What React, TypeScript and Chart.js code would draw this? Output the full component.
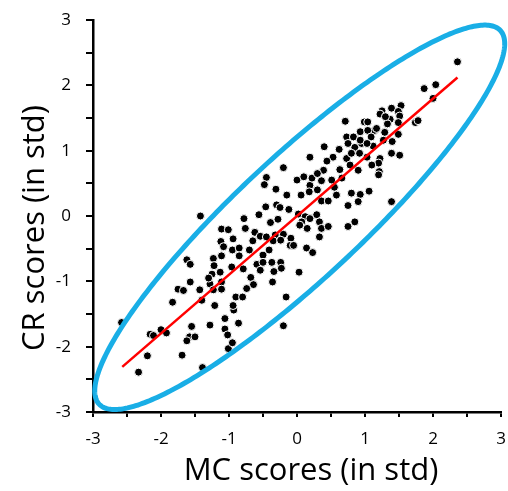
import React, { useEffect, useRef } from "react";
import { Chart, registerables } from "chart.js";

Chart.register(...registerables);

// MC scores (x, in std)
const mcScores = [
  -1.42, -1.11, -1.12, -1.08, -1.62, -1.57, -1.23, -1.11, -1.22, -1.13, -1.25, -1.57, -1.28, -1.11, -1.75, -1.67,
  -1.43, -1.23, -1.11, -1.83, -1.40, -1.21, -1.01, -2.58, -2.16, -2.11, -2.00, -1.92, -1.55, -1.28, -1.06, -1.06,
  -1.02, -1.01, -1.58, -1.50, -1.62, -2.20, -1.69, -2.33, -1.39, -0.93, -0.86, -0.95, -0.20, -0.45, -0.48, -0.31,
  0.00, 0.19, 0.22, 0.36, 0.51, 0.66, 0.18, 0.30, 0.06, 0.58, 0.80, 0.93, 0.36, 0.46, 0.90, 0.75,
  -0.46, -0.30, -0.25, -0.56, -0.78, -0.39, -0.28, 0.02, 0.12, 0.19, 0.07, 0.29, 0.33, 0.04, 0.15, 0.36,
  0.46, 0.85, 0.75, 0.33, -0.76, -0.62, -0.54, -0.45, -0.32, -0.20, -0.65, -0.35, -0.24, -0.09, -0.94, -0.95,
  -0.85, -0.10, -0.05, 0.14, 0.23, -0.50, -0.41, -0.85, -0.59, -0.50, -0.37, -0.24, -0.79, -0.54, -0.34, -0.23,
  0.03, -0.96, -0.68, -0.64, -0.74, -0.36, -0.90, -0.80, -0.16, -0.94, 0.71, 0.73, 0.83, 0.93, 0.99, 0.75,
  0.85, 0.95, 0.40, 0.19, 0.53, 0.73, 0.80, 0.92, -0.20, 0.39, 0.30, 0.63, 0.78, 0.90, 0.93, 2.36,
  1.87, 2.04, 2.00, 1.53, 1.39, 1.25, 1.49, 1.51, 1.37, 1.49, 1.74, 1.78, 1.04, 1.22, 1.33, 1.14,
  1.04, 1.17, 1.29, 1.49, 1.09, 1.27, 1.40, 1.12, 1.03, 1.51, 1.22, 1.20, 1.10, 1.03, 1.21, 1.06,
  1.39, 1.20, 1.39, -0.15, 0.62, 0.44, -0.12, -0.70, -1.30, 0.10, 0.55, 1.30,
];

// CR scores (y, in std)
const crScores = [
  0.00, -0.20, -0.39, -0.47, -0.67, -0.74, -0.65, -0.61, -0.76, -0.86, -0.89, -1.01, -1.04, -1.01, -1.12, -1.14,
  -1.13, -1.13, -1.12, -1.32, -1.29, -1.37, -0.21, -1.63, -1.81, -1.83, -1.74, -1.79, -1.69, -1.67, -1.57, -1.73,
  -1.82, -2.03, -1.85, -1.85, -1.91, -2.14, -2.13, -2.39, -2.32, -1.44, -1.64, -1.94, -1.68, 0.59, 0.48, 0.41,
  0.55, 0.47, 0.58, 0.54, 0.55, 0.58, 0.37, 0.40, 0.32, 0.32, 0.35, 0.33, 0.23, 0.23, 0.22, 0.16,
  0.14, 0.17, 0.13, 0.02, -0.04, -0.10, -0.05, 0.03, -0.01, -0.04, -0.09, 0.02, -0.09, -0.14, -0.19, -0.19,
  -0.16, -0.09, -0.16, -0.32, -0.19, -0.25, -0.31, -0.32, -0.29, -0.28, -0.38, -0.38, -0.37, -0.34, -0.35, -0.52,
  -0.49, -0.45, -0.45, -0.49, -0.56, -0.60, -0.52, -0.61, -0.74, -0.71, -0.71, -0.71, -0.81, -0.83, -0.85, -0.80,
  -0.86, -0.78, -0.94, -1.05, -1.11, -1.01, -1.24, -1.24, -1.24, -1.37, 1.45, 1.21, 1.21, 1.29, 1.44, 1.11,
  1.05, 1.11, 1.06, 0.90, 0.90, 0.88, 0.96, 0.96, 0.74, 0.70, 0.65, 0.71, 0.78, 0.70, 1.16, 2.36,
  1.95, 2.01, 1.80, 1.69, 1.65, 1.61, 1.60, 1.53, 1.48, 1.43, 1.43, 1.46, 1.44, 1.56, 1.41, 1.31,
  1.31, 1.34, 1.28, 1.25, 1.21, 1.16, 1.14, 1.07, 1.11, 0.93, 0.88, 0.81, 0.78, 0.90, 0.68, 0.38,
  0.22, 0.63, 0.96, 0.32, 1.02, 0.84, 0.10, -0.52, -0.95, 0.60, 0.44, 1.52,
];

// Regression line end points
const fitX = [-2.57, 2.36];
const fitY = [-2.31, 2.12];

// Confidence ellipse (data units): center and two conjugate semi-diameters
const ellipseCenter = [0.04, -0.02];
const ellipseMajor = [2.95, 2.86];
const ellipseMinor = [0.62, -0.69];

const tickValues = [-3, -2, -1, 0, 1, 2, 3];
const xTitle = "MC scores (in std)";
const yTitle = "CR scores (in std)";

const FONT = "'Open Sans', 'Noto Sans', sans-serif";

const ellipsePlugin = {
  id: "ellipse",
  afterDatasetsDraw(chart: any) {
    const { ctx, scales } = chart;
    const xs = scales.x;
    const ys = scales.y;
    ctx.save();
    ctx.beginPath();
    const n = 360;
    for (let i = 0; i <= n; i++) {
      const t = (i / n) * Math.PI * 2;
      const dx = ellipseCenter[0] + Math.cos(t) * ellipseMajor[0] + Math.sin(t) * ellipseMinor[0];
      const dy = ellipseCenter[1] + Math.cos(t) * ellipseMajor[1] + Math.sin(t) * ellipseMinor[1];
      const px = xs.getPixelForValue(dx);
      const py = ys.getPixelForValue(dy);
      if (i === 0) ctx.moveTo(px, py);
      else ctx.lineTo(px, py);
    }
    ctx.closePath();
    ctx.strokeStyle = "#19aee6";
    ctx.lineWidth = 5;
    ctx.stroke();
    ctx.restore();
  },
};

const titlePlugin = {
  id: "axisTitles",
  afterDraw(chart: any) {
    const { ctx, chartArea } = chart;
    ctx.save();
    ctx.fillStyle = "#000";
    ctx.font = `31px ${FONT}`;
    ctx.textAlign = "center";
    ctx.textBaseline = "alphabetic";
    const cx = (chartArea.left + chartArea.right) / 2 + 14;
    ctx.fillText(xTitle, cx, chartArea.bottom + 68);
    ctx.translate(chartArea.left - 49, (chartArea.top + chartArea.bottom) / 2 + 12);
    ctx.rotate(-Math.PI / 2);
    ctx.fillText(yTitle, 0, 0);
    ctx.restore();
  },
};

export default function App() {
  const ref = useRef<HTMLCanvasElement | null>(null);

  useEffect(() => {
    if (!ref.current) return;
    const labelCb = (v: any) => (tickValues.includes(Number(v)) ? String(v) : "");
    const chart = new Chart(ref.current, {
      type: "scatter",
      data: {
        datasets: [
          {
            type: "line",
            label: "fit",
            data: fitX.map((x, i) => ({ x, y: fitY[i] })),
            borderColor: "#ff0000",
            borderWidth: 2.5,
            pointRadius: 0,
            fill: false,
          } as any,
          {
            label: "scores",
            data: mcScores.map((x, i) => ({ x, y: crScores[i] })),
            backgroundColor: "#000",
            borderColor: "#fff",
            borderWidth: 1,
            pointRadius: 4,
          },
        ],
      },
      options: {
        responsive: false,
        animation: false,
        layout: { padding: { top: 20, right: 7, left: 0, bottom: 0 } },
        plugins: { legend: { display: false }, tooltip: { enabled: false }, title: { display: false } },
        scales: {
          x: {
            type: "linear",
            min: -3,
            max: 3,
            afterFit: (s: any) => {
              s.height = 79;
              s.paddingLeft = 0;
              s.paddingRight = 0;
            },
            ticks: {
              stepSize: 0.5,
              autoSkip: false,
              maxRotation: 0,
              callback: labelCb,
              color: "#000",
              padding: 12,
              font: { family: FONT, size: 17 },
            },
            grid: { drawOnChartArea: false, drawTicks: true, tickLength: 5, color: "#000", lineWidth: 2 },
            border: { display: true, color: "#000", width: 2.5 },
          },
          y: {
            type: "linear",
            min: -3,
            max: 3,
            afterFit: (s: any) => {
              s.width = 93;
              s.paddingTop = 0;
              s.paddingBottom = 0;
            },
            ticks: {
              stepSize: 0.5,
              autoSkip: false,
              callback: labelCb,
              color: "#000",
              padding: 15,
              font: { family: FONT, size: 17 },
            },
            grid: { drawOnChartArea: false, drawTicks: true, tickLength: 7, color: "#000", lineWidth: 2 },
            border: { display: true, color: "#000", width: 2.5 },
          },
        },
      },
      plugins: [ellipsePlugin, titlePlugin],
    });
    return () => chart.destroy();
  }, []);

  return (
    <div style={{ position: "absolute", left: 0, top: 0, width: 508, height: 491, background: "#fff" }}>
      <canvas ref={ref} width={508} height={491} />
    </div>
  );
}
